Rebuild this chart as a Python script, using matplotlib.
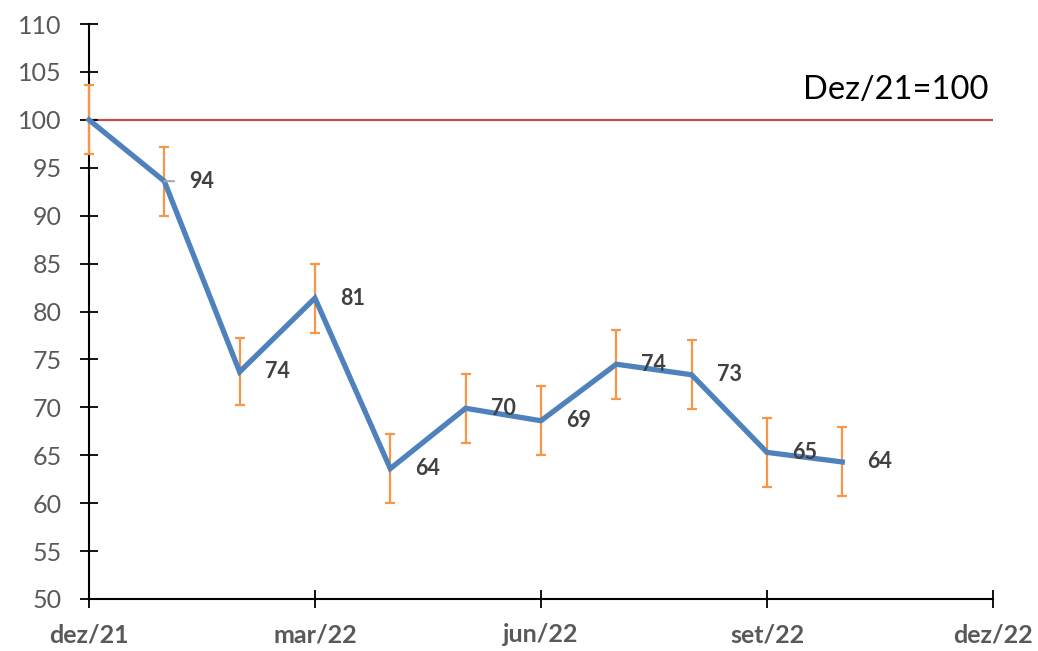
import matplotlib.pyplot as plt

plt.rcParams['font.family'] = ['Lato', 'DejaVu Sans']

# monthly index values, dez/21 = 100
months = ['dez/21', 'jan/22', 'fev/22', 'mar/22', 'abr/22', 'mai/22',
          'jun/22', 'jul/22', 'ago/22', 'set/22', 'out/22']
values = [100.0, 93.6, 73.7, 81.4, 63.6, 69.9, 68.6, 74.5, 73.4, 65.3, 64.3]
errors = [3.6, 3.6, 3.5, 3.6, 3.6, 3.6, 3.6, 3.6, 3.6, 3.6, 3.6]
labels = ['', '94', '74', '81', '64', '70', '69', '74', '73', '65', '64']
tick_labels = ['dez/21', 'mar/22', 'jun/22', 'set/22', 'dez/22']
baseline = 100

x = list(range(len(months)))

fig = plt.figure(figsize=(10.38, 6.51), dpi=100)
ax = fig.add_axes([0.0857, 0.0799, 0.8709, 0.8832])

ax.axhline(baseline, color='#C0504D', linewidth=1.6, zorder=1)
eb = ax.errorbar(x, values, yerr=errors, fmt='none', ecolor='#F79646',
                 elinewidth=1.6, capsize=3.3, capthick=1.6, zorder=4)
for part in eb.lines[1] + eb.lines[2]:
    part.set_clip_on(False)
ax.plot(x, values, color='#4F81BD', linewidth=3.8, solid_joinstyle='miter',
        zorder=5, clip_on=False)

for xi, v, lab in zip(x, values, labels):
    if not lab:
        continue
    arrow = None
    if xi == 1:
        # small leader line next to the jan label
        arrow = dict(arrowstyle='-', color='#A6A6A6', lw=1.5, shrinkA=9, shrinkB=0)
    ax.annotate(lab, (xi, v), xytext=(18, 0), textcoords='offset points',
                va='center', ha='left', fontsize=15.5, fontweight='bold',
                color='#404040', arrowprops=arrow, zorder=6)

ax.text(0.995, 0.885, 'Dez/21=100', transform=ax.transAxes,
        ha='right', va='center', fontsize=23.5, color='black')

ax.set_xlim(0, 12)
ax.set_ylim(50, 110)
ax.set_yticks(range(50, 111, 5))
ax.set_xticks([0, 3, 6, 9, 12])
ax.set_xticklabels(tick_labels)

for s in ['top', 'right']:
    ax.spines[s].set_visible(False)
for s in ['left', 'bottom']:
    ax.spines[s].set_linewidth(1.5)
    ax.spines[s].set_color('black')
    ax.spines[s].set_zorder(3)

ax.tick_params(axis='y', direction='inout', length=13, width=1.3, pad=13,
               labelsize=18, labelcolor='#595959')
ax.tick_params(axis='x', direction='inout', length=13, width=1.3, pad=11,
               labelsize=18, labelcolor='#595959')
for t in ax.get_xticklabels():
    t.set_fontweight('bold')

fig.savefig('out.png', dpi=100)
